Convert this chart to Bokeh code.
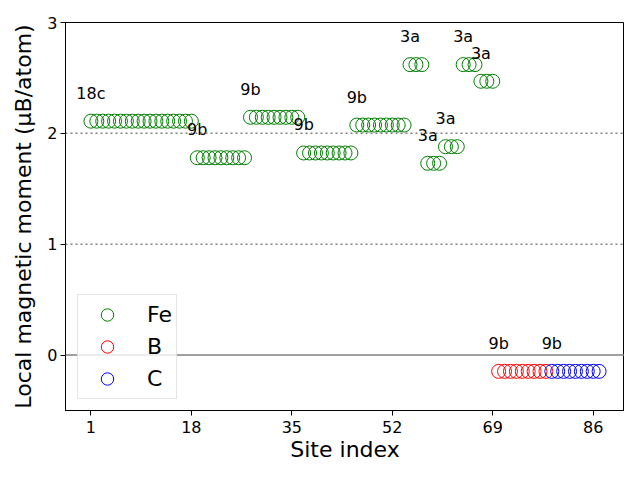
from bokeh.plotting import figure
from bokeh.models import FixedTicker, Span, ColumnDataSource, Legend
from bokeh.core.properties import value
from bokeh.embed import file_html
from bokeh.resources import INLINE

# ---- data ----
fe_sites = list(range(1, 70))
fe_moment = ([2.11] * 18 + [1.78] * 9 + [2.145] * 9 + [1.823] * 9 + [2.075] * 9
             + [2.62] * 3 + [1.73] * 3 + [1.88] * 3 + [2.62] * 3 + [2.47] * 3)
b_sites = list(range(70, 79))
b_moment = [-0.147] * 9
c_sites = list(range(79, 88))
c_moment = [-0.147] * 9

group_labels = ["18c", "9b", "9b", "9b", "9b", "3a", "3a", "3a", "3a", "3a", "9b", "9b"]
group_first_site = [1, 19, 28, 37, 46, 55, 58, 61, 64, 67, 70, 79]
group_moment = [2.11, 1.78, 2.145, 1.823, 2.075, 2.62, 1.73, 1.88, 2.62, 2.47, -0.147, -0.147]

x_ticks = [1, 18, 35, 52, 69, 86]
y_ticks = [0, 1, 2, 3]

FONT = "DejaVu Sans"

p = figure(width=624, height=464, output_backend="svg", toolbar_location=None,
           x_range=(-3.3, 91.3), y_range=(-0.5, 3.0),
           min_border_left=65, min_border_right=0, min_border_top=22, min_border_bottom=53)
p.xgrid.visible = False
p.ygrid.visible = False
p.outline_line_color = "black"
p.outline_line_width = 1
p.background_fill_color = "white"
p.border_fill_color = "white"

for v in (1, 2):
    p.add_layout(Span(location=v, dimension="width", line_color="#808080",
                      line_dash="2 3", line_width=1.5))
p.add_layout(Span(location=0, dimension="width", line_color="#808080", line_width=1.5))

r_fe = p.scatter(fe_sites, fe_moment, size=14, fill_color=None, line_color="#008000", line_width=1)
r_b = p.scatter(b_sites, b_moment, size=14, fill_color=None, line_color="#ff0000", line_width=1)
r_c = p.scatter(c_sites, c_moment, size=14, fill_color=None, line_color="#0000ff", line_width=1)

lab_src = ColumnDataSource(dict(x=group_first_site, y=group_moment, t=group_labels))
p.text(x="x", y="y", text="t", source=lab_src, y_offset=-28,
       text_align="center", text_baseline="middle",
       text_font=value(FONT), text_font_size="16px", text_color="black")

legend = Legend(items=[("Fe", [r_fe]), ("B", [r_b]), ("C", [r_c])], location=(12, 11))
legend.label_text_font = FONT
legend.label_text_font_size = "22px"
legend.label_text_color = "black"
legend.label_text_baseline = "middle"
legend.glyph_width = 50
legend.glyph_height = 31
legend.label_height = 31
legend.spacing = 1
legend.padding = 4
legend.margin = 0
legend.label_standoff = 15
legend.border_line_color = "#cccccc"
legend.border_line_width = 1
legend.background_fill_alpha = 0.8
p.add_layout(legend, "center")

p.xaxis.ticker = FixedTicker(ticks=x_ticks)
p.yaxis.ticker = FixedTicker(ticks=y_ticks)
for ax in (p.xaxis, p.yaxis):
    ax.minor_tick_line_color = None
    ax.major_tick_in = 0
    ax.major_tick_out = 5
    ax.major_tick_line_color = "black"
    ax.axis_line_color = "black"
    ax.major_label_text_font = FONT
    ax.major_label_text_font_size = "16px"
    ax.major_label_text_color = "black"
    ax.axis_label_text_font = FONT
    ax.axis_label_text_font_size = "22px"
    ax.axis_label_text_font_style = "normal"
    ax.axis_label_text_color = "black"
    ax.major_label_standoff = 3
p.xaxis.major_label_standoff = 5
p.xaxis.axis_label = "Site index"
p.yaxis.axis_label = "Local magnetic moment (μB/atom)"
p.yaxis.axis_label_standoff = 8
p.xaxis.axis_label_standoff = 1

open("out.html", "w").write(file_html(p, INLINE))
